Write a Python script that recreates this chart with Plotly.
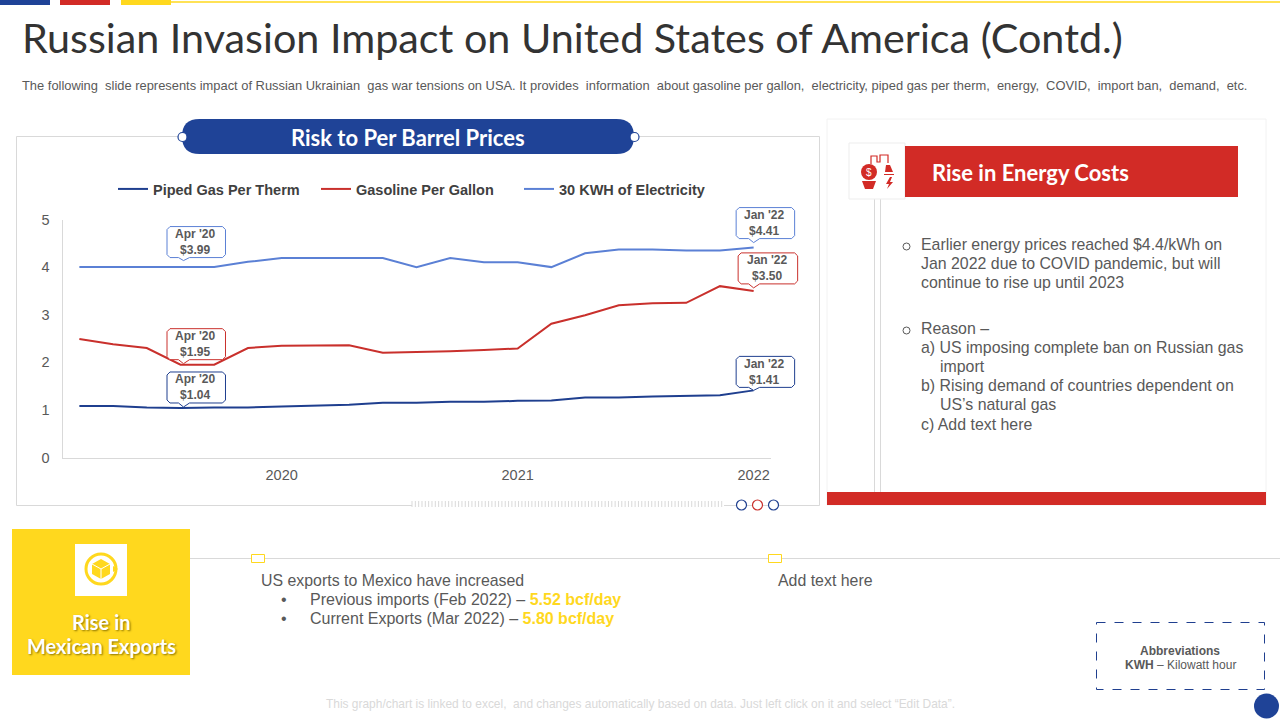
import plotly.graph_objects as go

# ---------- data ----------
periods = list(range(21))
piped_gas = [1.08, 1.08, 1.05, 1.04, 1.05, 1.05, 1.07, 1.09, 1.11, 1.15, 1.15,
             1.17, 1.17, 1.19, 1.20, 1.26, 1.26, 1.28, 1.30, 1.31, 1.41]
gasoline = [2.49, 2.38, 2.30, 1.95, 1.95, 2.30, 2.35, 2.35, 2.36, 2.20, 2.21,
            2.23, 2.26, 2.29, 2.81, 2.99, 3.20, 3.24, 3.25, 3.60, 3.50]
electricity = [4.00, 4.00, 4.00, 3.99, 4.00, 4.11, 4.19, 4.19, 4.19, 4.19, 4.00,
               4.19, 4.10, 4.10, 4.00, 4.29, 4.37, 4.37, 4.35, 4.35, 4.41]
year_ticks = [6, 13, 20]
year_labels = ["2020", "2021", "2022"]
y_ticks = [0, 1, 2, 3, 4, 5]
series_names = ["Piped Gas Per Therm", "Gasoline Per Gallon", "30 KWH of Electricity"]

NAVY = "#1F3F8F"
BLUE = "#1F4397"
RED = "#D22B26"
LINE_RED = "#C9302C"
LIGHT = "#5B80D5"
YELLOW = "#FFD81E"
GREY = "#595959"
RULE = "#D9D9D9"
HEAD = "Lato"
BODY = "Liberation Sans"

PLOT_L, PLOT_R, PLOT_T, PLOT_B = 62.5, 770.5, 219.5, 457.5
X_MIN, X_MAX, Y_MIN, Y_MAX = -0.5, 20.5, 0, 5


def px(x):
    return x / 1280


def py(y):
    return 1 - y / 720


def data_x(v):
    return PLOT_L + (v - X_MIN) / (X_MAX - X_MIN) * (PLOT_R - PLOT_L)


def data_y(v):
    return PLOT_B - (v - Y_MIN) / (Y_MAX - Y_MIN) * (PLOT_B - PLOT_T)


shapes = []
notes = []


def rect(x0, y0, x1, y1, fill=None, line=None, width=1, layer="below", dash=None):
    shapes.append(dict(type="rect", xref="paper", yref="paper",
                       x0=px(x0), x1=px(x1), y0=py(y0), y1=py(y1),
                       fillcolor=fill or "rgba(0,0,0,0)",
                       line=dict(color=line or "rgba(0,0,0,0)", width=width if line else 0, dash=dash),
                       layer=layer))


def seg(x0, y0, x1, y1, color=RULE, width=1, layer="below"):
    shapes.append(dict(type="line", xref="paper", yref="paper",
                       x0=px(x0), x1=px(x1), y0=py(y0), y1=py(y1),
                       line=dict(color=color, width=width), layer=layer))


def circle(cx, cy, r, fill=None, line=None, width=1, layer="above"):
    shapes.append(dict(type="circle", xref="paper", yref="paper",
                       x0=px(cx - r), x1=px(cx + r), y0=py(cy - r), y1=py(cy + r),
                       fillcolor=fill or "rgba(0,0,0,0)",
                       line=dict(color=line or "rgba(0,0,0,0)", width=width if line else 0),
                       layer=layer))


def poly(points, fill=None, line=None, width=1, closed=True, layer="above"):
    d = "M" + " L".join(f"{px(x):.5f},{py(y):.5f}" for x, y in points) + (" Z" if closed else "")
    shapes.append(dict(type="path", xref="paper", yref="paper", path=d,
                       fillcolor=fill or "rgba(0,0,0,0)",
                       line=dict(color=line or "rgba(0,0,0,0)", width=width if line else 0),
                       layer=layer))


def text(x, y, s, size=16, color=GREY, family=BODY, anchor="left", shadow=None):
    font = dict(size=size, color=color, family=family)
    if shadow:
        font["shadow"] = shadow
    notes.append(dict(xref="paper", yref="paper", x=px(x), y=py(y), text=s, showarrow=False,
                      xanchor=anchor, yanchor="middle", font=font, borderpad=0, align=anchor))


# ---------- top strip and heading ----------
rect(0, 0, 50, 5, BLUE)
rect(60, 0, 110, 5, RED)
rect(121, 0, 171, 5, YELLOW)
seg(171, 2, 1280, 2, YELLOW, 1.5)
text(21, 37, "Russian Invasion Impact on United States of America (Contd.)", 41.3, "#333333", HEAD)
text(21, 85, "The following  slide represents impact of Russian Ukrainian  gas war tensions on USA. It provides  "
             "information  about gasoline per gallon,  electricity, piped gas per therm,  energy,  COVID,  import ban,  demand,  etc.",
     12.9, GREY)

# ---------- chart frame ----------
seg(16.5, 136.5, 182, 136.5)
seg(634, 136.5, 819.5, 136.5)
seg(16.5, 136.5, 16.5, 505.5)
seg(819.5, 136.5, 819.5, 505.5)
seg(16.5, 505.5, 412, 505.5)
seg(781, 505.5, 819.5, 505.5)
ticks = " ".join(f"M{px(412 + 3.33 * i):.5f},{py(501):.5f} L{px(412 + 3.33 * i):.5f},{py(507):.5f}" for i in range(94))
shapes.append(dict(type="path", xref="paper", yref="paper", path=ticks, line=dict(color=RULE, width=1), layer="below"))
seg(724, 505.5, 781, 505.5)
circle(741.5, 505, 5, "white", NAVY, 1.2)
circle(757.5, 505, 5, "white", LINE_RED, 1.2)
circle(773.5, 505, 5, "white", NAVY, 1.2)

# pill heading
r = 17.5
pill = (f"M{px(182 + r):.5f},{py(119):.5f} L{px(634 - r):.5f},{py(119):.5f} "
        f"Q{px(634):.5f},{py(119):.5f} {px(634):.5f},{py(136.5):.5f} "
        f"Q{px(634):.5f},{py(154):.5f} {px(634 - r):.5f},{py(154):.5f} "
        f"L{px(182 + r):.5f},{py(154):.5f} "
        f"Q{px(182):.5f},{py(154):.5f} {px(182):.5f},{py(136.5):.5f} "
        f"Q{px(182):.5f},{py(119):.5f} {px(182 + r):.5f},{py(119):.5f} Z")
shapes.append(dict(type="path", xref="paper", yref="paper", path=pill, fillcolor=BLUE,
                   line=dict(width=0), layer="below"))
circle(182.5, 137, 4.5, "white", BLUE, 1.2)
circle(634.5, 137, 4.5, "white", BLUE, 1.2)
text(407.5, 137, "<b>Risk to Per Barrel Prices</b>", 22, "white", HEAD, "center")

# ---------- callouts: box edges are pixel offsets from the data point ----------
callouts = [
    (3, electricity[3], "Apr '20<br>$3.99", LIGHT, -13.5, 45, 10, 41, 7),
    (3, gasoline[3], "Apr '20<br>$1.95", LINE_RED, -13.5, 45, 5, 36, 1),
    (3, piped_gas[3], "Apr '20<br>$1.04", NAVY, -13.5, 45, 5, 36, 1),
    (20, electricity[20], "Jan '22<br>$4.41", LIGHT, -17.5, 41, 9, 40, 5),
    (20, gasoline[20], "Jan '22<br>$3.50", LINE_RED, -15.5, 44, 7, 38, 3),
    (20, piped_gas[20], "Jan '22<br>$1.41", NAVY, -17.5, 41, 3, 34, 0),
]
for idx, val, label, color, left, right, bottom, top, tip in callouts:
    c = 3
    cx, cy = data_x(idx), data_y(val)
    tx = cx + (3 if idx == 3 else 0)
    outline = [(cx + left + c, cy - top), (cx + right - c, cy - top), (cx + right, cy - top + c),
               (cx + right, cy - bottom - c), (cx + right - c, cy - bottom),
               (tx + 6, cy - bottom), (tx, cy - tip), (tx - 5, cy - bottom),
               (cx + left + c, cy - bottom), (cx + left, cy - bottom - c),
               (cx + left, cy - top + c)]
    poly(outline, "white", color, 1)
    text(cx + (left + right) / 2 - 0.5, cy - (top + bottom) / 2, f"<b>{label}</b>", 12, GREY, BODY, "center")

# ---------- energy panel ----------
rect(827, 119, 1266, 505, "white", "#F2F2F2", 1)
rect(827, 492, 1266, 505, RED)
seg(874.5, 199, 874.5, 492)
seg(880.5, 199, 880.5, 492)
rect(849, 143, 905, 199, "white", "#EDEDED", 1)
rect(905, 146, 1238, 197, RED)
text(931, 172, "<b>Rise in Energy Costs</b>", 22, "white", HEAD)
# energy icon
circle(869, 172, 8, RED)
text(869, 172, "$", 10, "white", BODY, "center")
poly([(862, 181), (876, 181), (873, 189), (865, 189)], RED)
poly([(871, 164), (871, 156), (877, 156), (877, 162), (880, 162), (880, 155), (888, 155), (888, 163)],
     None, RED, 1.2, closed=False)
poly([(885, 172), (886, 165), (890, 165), (893, 172)], RED)
poly([(884, 174), (894, 174), (894, 175), (884, 175)], RED)
poly([(890, 177), (886, 184), (889, 184), (887, 189), (893, 182), (890, 182), (892, 177)], RED)

for y, s in [(244, "Earlier energy prices reached $4.4/kWh on"),
             (263, "Jan 2022 due to COVID pandemic, but will"),
             (282.5, "continue to rise up until 2023"),
             (328.5, "Reason –"),
             (347, "a) US imposing complete ban on Russian gas"),
             (385, "b) Rising demand of countries dependent on"),
             (424, "c) Add text here")]:
    text(919.5, y, s, 15.9)
text(938.5, 366, "import", 15.9)
text(938.5, 404, "US’s natural gas", 15.9)
circle(906.5, 246.5, 3.5, None, GREY, 1)
circle(906.5, 330.5, 3.5, None, GREY, 1)

# ---------- exports band ----------
rect(12, 529, 190, 675, YELLOW)
rect(75, 544, 127, 596, "white")
circle(101, 569, 15, None, YELLOW, 3)
poly([(101, 559), (110, 564), (110, 574), (101, 579), (92, 574), (92, 564)], YELLOW)
poly([(92, 564), (101, 569), (110, 564)], None, "white", 1, closed=False)
seg(101, 569, 101, 579, "white", 1, "above")
poly([(113, 566), (118, 569), (113, 572)], YELLOW)
text(101, 621.5, "<b>Rise in</b>", 20, "white", HEAD, "center", "1px 1px 2px #8a7300")
text(101, 645.5, "<b>Mexican Exports</b>", 20, "white", HEAD, "center", "1px 1px 2px #8a7300")
seg(190, 558.5, 1280, 558.5)
rect(251.5, 554.5, 264.5, 562.5, "white", YELLOW, 1, "above")
rect(768.5, 554.5, 781.5, 562.5, "white", YELLOW, 1, "above")
text(259.5, 580, "US exports to Mexico have increased", 15.9)
text(284, 599, "•", 16, GREY, BODY, "center")
text(284, 618, "•", 16, GREY, BODY, "center")
text(308.5, 599, f"Previous imports (Feb 2022) – <b><span style='color:{YELLOW}'>5.52 bcf/day</span></b>", 16)
text(308.5, 618, f"Current Exports (Mar 2022) – <b><span style='color:{YELLOW}'>5.80 bcf/day</span></b>", 16)
text(776.5, 580, "Add text here", 15.9)

# abbreviations and footer
rect(1096.5, 622.5, 1264.5, 689.5, None, NAVY, 1, dash="dash")
text(1180, 651, "<b>Abbreviations</b>", 12, GREY, BODY, "center")
text(1180, 665, "<b>KWH</b> – Kilowatt hour", 12, GREY, BODY, "center")
circle(1266.5, 706, 12.5, BLUE)
text(640, 704, "This graph/chart is linked to excel,  and changes automatically based on data. Just left click on it and select “Edit Data”.",
     11.95, "#D9D9D9", BODY, "center")

# ---------- figure ----------
fig = go.Figure()
for name, values, color in zip(series_names, [piped_gas, gasoline, electricity], [NAVY, LINE_RED, LIGHT]):
    fig.add_trace(go.Scatter(x=periods, y=values, mode="lines", name=name,
                             line=dict(color=color, width=2)))

fig.update_layout(
    width=1280, height=720, margin=dict(l=0, r=0, t=0, b=0, autoexpand=False),
    paper_bgcolor="white", plot_bgcolor="rgba(0,0,0,0)",
    font=dict(family=BODY, color=GREY),
    shapes=shapes, annotations=notes,
    legend=dict(orientation="h", x=px(417.5), xanchor="center", y=py(189), yanchor="middle",
                font=dict(size=14.5, color="#404040", family=BODY, weight="bold"),
                bgcolor="rgba(0,0,0,0)", itemwidth=30, entrywidth=158, entrywidthmode="pixels"),
    xaxis=dict(domain=[px(PLOT_L), px(PLOT_R)], range=[X_MIN, X_MAX], tickmode="array",
               tickvals=year_ticks, ticktext=year_labels, showgrid=False, zeroline=False,
               showline=True, linecolor=RULE, linewidth=1, ticks="",
               tickfont=dict(size=14.5, color=GREY, family=BODY), ticklabelstandoff=4),
    yaxis=dict(domain=[py(PLOT_B), py(PLOT_T)], range=[Y_MIN, Y_MAX], tickmode="array",
               tickvals=y_ticks, showgrid=False, zeroline=False,
               showline=True, linecolor=RULE, linewidth=1, ticks="",
               tickfont=dict(size=14.5, color=GREY, family=BODY), ticklabelstandoff=9),
)
fig.write_html("out.html", config={"displayModeBar": False},
               post_script="document.body.style.margin='0';document.body.style.overflow='hidden';")
